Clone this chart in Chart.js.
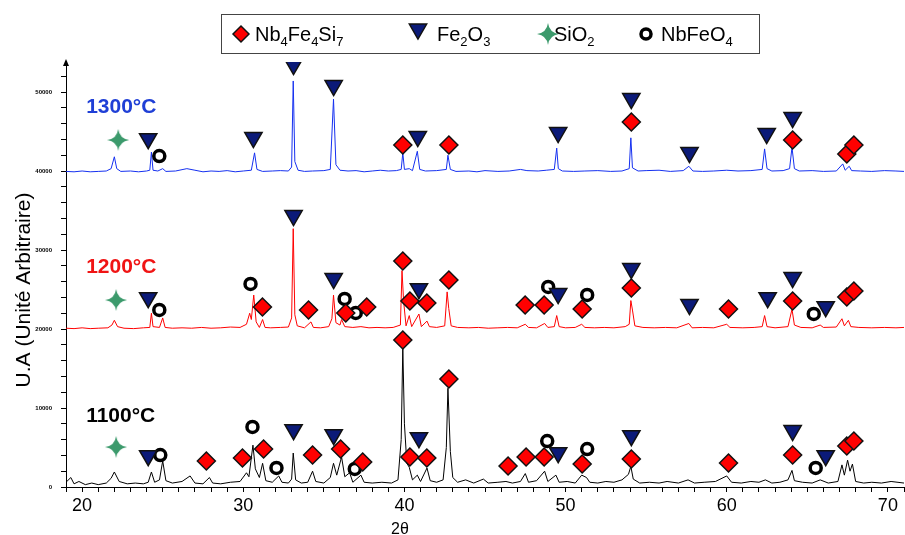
<!DOCTYPE html>
<html>
<head>
<meta charset="utf-8">
<script src="https://cdn.jsdelivr.net/npm/chart.js@4.4.1/dist/chart.umd.min.js"></script>
<style>
  html, body { margin: 0; padding: 0; background: #fff; overflow: hidden; }
  #wrap { width: 905px; height: 535px; }
</style>
</head>
<body>
<div id="wrap"><canvas id="xrd" width="905" height="535"></canvas></div>
<script>
// Diffractogrammes DRX empilés (1100, 1200, 1300 °C)
const xTickLabels = [20, 30, 40, 50, 60, 70];
const yTickLabels = [0, 10000, 20000, 30000, 40000, 50000];

// [2θ, intensité] (courbes déjà décalées comme sur la figure)
const trace1300 = [
  [19.0,39950],[19.5,39900],[20.0,40000],[20.5,39900],[21.0,39950],[21.5,40000],[21.8,40300],[22.0,41800],[22.15,40300],
  [22.4,39950],[23.0,40000],[23.5,39900],[24.0,40000],[24.2,40100],[24.3,42400],[24.4,40100],[24.7,40000],[25.0,40300],
  [25.2,39950],[25.8,40000],[26.5,40300],[27.0,40100],[27.5,39900],[28.0,40000],[28.5,39950],[29.0,40050],[29.5,39900],
  [30.0,40000],[30.5,40100],[30.7,42300],[30.85,40200],[31.2,39950],[31.8,40000],[32.3,40050],[32.8,40000],[33.0,40500],
  [33.1,51400],[33.2,41200],[33.4,40100],[33.8,39950],[34.3,40000],[35.0,40050],[35.4,40200],[35.6,49100],[35.75,40800],
  [36.0,40100],[36.5,40000],[37.0,40050],[37.5,39900],[38.0,40000],[38.5,40100],[39.0,40000],[39.5,40050],[39.8,40200],
  [39.9,42300],[40.0,40200],[40.3,40300],[40.5,40050],[40.8,42500],[40.95,40200],[41.3,40000],[42.0,40050],[42.6,40200],
  [42.7,42000],[42.85,40200],[43.2,39950],[44.0,40000],[44.5,39900],[45.0,40050],[45.8,39950],[46.5,40000],[47.2,40200],
  [47.6,40050],[48.3,40000],[48.8,40100],[49.3,40200],[49.45,42900],[49.55,40300],[49.8,40000],[50.5,39950],[51.2,40000],
  [52.0,40050],[52.8,39950],[53.5,40000],[53.95,40300],[54.05,44200],[54.15,40400],[54.5,40000],[55.0,40050],[55.8,40100],
  [56.5,39950],[57.3,40050],[57.65,40600],[57.9,40000],[58.5,39950],[59.2,40000],[60.0,40100],[60.7,40000],[61.5,40050],
  [62.2,40200],[62.35,42800],[62.5,40300],[62.8,40000],[63.5,40050],[63.9,40300],[64.05,43000],[64.2,40300],[64.5,40000],
  [65.3,40050],[66.0,39950],[66.8,40000],[67.2,40900],[67.35,40100],[67.6,40600],[67.75,40050],[68.3,40000],[69.0,39950],
  [69.8,40050],[70.5,40000],[71.0,39950]
];

const trace1200 = [
  [19.0,20100],[19.5,20050],[20.0,20150],[20.5,20050],[21.0,20100],[21.6,20150],[21.85,20500],[22.0,21100],[22.2,20300],
  [22.6,20100],[23.2,20050],[23.8,20150],[24.2,20200],[24.3,22000],[24.4,20300],[24.8,20200],[25.0,21400],[25.15,20200],
  [25.6,20100],[26.2,20150],[26.8,20100],[27.4,20200],[28.0,20100],[28.6,20150],[29.2,20250],[29.8,20200],[30.2,20600],
  [30.4,22000],[30.5,21200],[30.65,24300],[30.8,20900],[31.0,20200],[31.2,21200],[31.35,20200],[31.7,20150],[32.3,20200],
  [32.8,20250],[33.0,21400],[33.1,32700],[33.2,21800],[33.35,20400],[33.8,20150],[34.2,20900],[34.35,20200],[34.8,20150],
  [35.3,20300],[35.5,21300],[35.6,24300],[35.75,20800],[36.0,20500],[36.1,21200],[36.3,20300],[36.8,20200],[37.3,20300],
  [37.8,20150],[38.3,20200],[38.8,20150],[39.3,20200],[39.75,20500],[39.85,27400],[39.95,23500],[40.1,20400],[40.3,21700],
  [40.45,20300],[40.9,21900],[41.05,20300],[41.4,21000],[41.55,20300],[42.0,20200],[42.5,20400],[42.65,24700],[42.75,22600],
  [42.9,20400],[43.3,20200],[44.0,20150],[44.6,20200],[45.2,20100],[45.8,20150],[46.4,20200],[47.0,20150],[47.5,20600],
  [47.7,20200],[48.2,20150],[48.7,20700],[48.9,20200],[49.3,20300],[49.45,21700],[49.6,20300],[50.0,20150],[50.6,20200],
  [51.0,20600],[51.2,20200],[51.8,20150],[52.4,20200],[53.0,20150],[53.7,20300],[53.95,20600],[54.05,23600],[54.15,22400],
  [54.3,20400],[54.8,20200],[55.5,20150],[56.2,20200],[56.9,20150],[57.65,20700],[57.85,20150],[58.5,20200],[59.2,20150],
  [60.0,20600],[60.2,20200],[61.0,20150],[61.7,20200],[62.2,20300],[62.35,21700],[62.5,20300],[63.0,20150],[63.8,20300],
  [64.05,22500],[64.2,20500],[64.6,20200],[65.3,20150],[65.8,20500],[66.0,20200],[66.8,20250],[67.15,21300],[67.3,20400],
  [67.55,21100],[67.7,20300],[68.2,20200],[69.0,20150],[69.8,20200],[70.5,20150],[71.0,20200]
];

const trace1100 = [
  [19.0,600],[19.3,1200],[19.5,400],[19.8,700],[20.2,300],[20.6,500],[21.0,300],[21.5,500],[21.8,1100],[22.0,1900],
  [22.3,700],[22.8,400],[23.3,500],[23.8,400],[24.1,600],[24.3,1900],[24.5,600],[24.8,900],[25.0,3300],[25.2,800],
  [25.6,500],[26.2,700],[26.7,1400],[27.0,500],[27.5,400],[27.9,1200],[28.1,500],[28.6,400],[29.2,600],[29.8,700],
  [30.2,1800],[30.35,1300],[30.6,5300],[30.75,2300],[31.0,1200],[31.2,3000],[31.4,800],[31.8,600],[32.2,1400],[32.4,600],
  [32.8,500],[33.0,1000],[33.1,4300],[33.25,900],[33.6,500],[34.0,600],[34.3,2000],[34.5,700],[35.0,500],[35.4,1200],
  [35.6,3000],[35.8,1500],[36.1,3800],[36.3,1300],[36.6,1800],[36.8,600],[37.3,1500],[37.5,600],[38.0,500],[38.6,600],
  [39.2,500],[39.6,900],[39.8,6000],[39.9,17600],[40.0,8000],[40.15,3000],[40.3,2500],[40.5,900],[40.8,1500],[41.0,700],
  [41.4,2400],[41.6,800],[42.0,600],[42.4,900],[42.6,5000],[42.7,12500],[42.85,4500],[43.0,1200],[43.3,600],[43.8,900],
  [44.3,500],[44.9,1000],[45.2,500],[45.8,600],[46.3,700],[46.7,500],[47.2,700],[47.5,1700],[47.7,600],[48.2,800],
  [48.7,2000],[48.9,700],[49.4,1500],[49.6,600],[50.1,700],[50.6,500],[51.0,1500],[51.3,1200],[51.5,600],[52.0,500],
  [52.5,700],[53.0,600],[53.5,900],[53.9,1600],[54.05,2600],[54.2,1000],[54.6,500],[55.2,600],[55.8,500],[56.3,700],
  [57.0,500],[57.6,900],[58.0,500],[58.6,600],[59.3,700],[60.0,1400],[60.3,600],[60.9,500],[61.5,700],[62.0,600],
  [62.4,900],[62.8,500],[63.3,600],[63.8,900],[64.05,2100],[64.2,800],[64.7,600],[65.3,500],[65.8,900],[66.3,500],
  [66.9,700],[67.15,2800],[67.3,1500],[67.5,3400],[67.65,2000],[67.8,2900],[68.0,700],[68.5,500],[69.0,600],[69.6,500],
  [70.2,700],[71.0,500]
];

// repères des phases [2θ, intensité]
const markNb4Fe4Si7 = [
  [39.90,43300],[42.76,43300],[54.08,46210],[64.09,43930],[67.45,42160],[67.89,43300],
  [31.19,22790],[34.05,22410],[36.36,22030],[37.66,22790],[39.90,28610],[40.34,23550],[41.39,23290],[42.76,26210],
  [47.49,23040],[48.67,23040],[51.03,22530],[54.08,25190],[60.11,22530],[64.09,23550],[67.45,24050],[67.89,24810],
  [27.71,3290],[29.95,3670],[31.26,4810],[34.30,4050],[36.04,4810],[37.41,3170],[39.90,18610],[40.34,3800],[41.39,3670],
  [42.76,13670],[46.43,2660],[47.55,3800],[48.67,3800],[51.03,2910],[54.08,3540],[60.11,3040],[64.09,4050],[67.45,5190],[67.89,5820]
];
const markFe2O3 = [
  [24.10,44100],[30.63,44230],[33.12,53470],[35.61,50810],[40.83,44360],[49.54,44860],[54.08,49170],[57.69,42330],
  [62.48,44740],[64.09,46760],
  [24.10,23970],[33.12,34360],[35.61,26380],[40.90,25110],[49.54,24480],[54.08,27650],[57.69,23090],[62.54,23970],
  [64.09,26510],[66.14,22830],
  [24.10,3970],[33.12,7260],[35.61,6630],[40.90,6250],[49.54,4350],[54.08,6500],[64.09,7140],[66.14,3970]
];
const markSiO2 = [[22.24,43930],[22.11,23670],[22.11,5060]];
const markNbFeO4 = [
  [24.79,41900],
  [24.79,22410],[30.45,25700],[36.29,23800],[36.98,22030],[48.92,25320],[51.34,24310],[65.40,21900],
  [24.85,4050],[30.57,7600],[32.06,2410],[36.92,2280],[48.86,5820],[51.34,4810],[65.52,2410]
];

const toXY = arr => arr.map(p => ({ x: p[0], y: p[1] }));

// étoile verte à 4 branches
function makeStar(size, color) {
  const c = document.createElement('canvas');
  c.width = size; c.height = size;
  const g = c.getContext('2d');
  const r = size / 2, k = r * 0.12;
  g.translate(r, r);
  g.fillStyle = color;
  g.beginPath();
  g.moveTo(0, -r);
  g.quadraticCurveTo(k, -k, r, 0);
  g.quadraticCurveTo(k, k, 0, r);
  g.quadraticCurveTo(-k, k, -r, 0);
  g.quadraticCurveTo(-k, -k, 0, -r);
  g.fill();
  return c;
}
const starImg = makeStar(22, '#3c9a6c');

const diamondStyle = { pointStyle: 'rectRot', radius: 9, rotation: 0, backgroundColor: '#ff0000', borderColor: '#111', borderWidth: 1.5 };
const triStyle = { pointStyle: 'triangle', radius: 10, rotation: 180, backgroundColor: '#0b1a78', borderColor: '#111', borderWidth: 1.5 };
const ringStyle = { pointStyle: 'circle', radius: 5.5, rotation: 0, backgroundColor: '#fff', borderColor: '#000', borderWidth: 3.5 };

function markerSet(data, st) {
  return {
    type: 'scatter', data: toXY(data), showLine: false, order: 0,
    pointStyle: st.pointStyle, pointRadius: st.radius, pointRotation: st.rotation,
    pointBackgroundColor: st.backgroundColor, pointBorderColor: st.borderColor,
    pointBorderWidth: st.borderWidth, pointHoverRadius: st.radius
  };
}

function traceSet(data, color) {
  return {
    type: 'line', data: toXY(data), borderColor: color, borderWidth: 1,
    pointRadius: 0, tension: 0, fill: false, order: 1
  };
}

// texte avec indices (Nb4Fe4Si7 ...)
function drawChem(ctx, parts, x, y) {
  parts.forEach(p => {
    if (p[1]) {
      ctx.font = '13px Arial, "Liberation Sans", sans-serif';
      ctx.fillText(p[0], x, y + 5);
    } else {
      ctx.font = '20px Arial, "Liberation Sans", sans-serif';
      ctx.fillText(p[0], x, y);
    }
    x += ctx.measureText(p[0]).width;
  });
}

const decor = {
  id: 'decor',
  afterDraw(chart) {
    const ctx = chart.ctx;
    const xs = chart.scales.x, ys = chart.scales.y;
    const H = Chart.helpers;
    ctx.save();

    // flèche en haut de l'axe y
    const ax = chart.chartArea.left;
    ctx.fillStyle = '#000';
    ctx.beginPath();
    ctx.moveTo(ax, 59); ctx.lineTo(ax - 3, 66); ctx.lineTo(ax + 3, 66); ctx.closePath();
    ctx.fill();

    // étiquettes des températures
    ctx.font = 'bold 21px Arial, "Liberation Sans", sans-serif';
    ctx.textBaseline = 'middle';
    ctx.textAlign = 'left';
    [['1300°C', '#1f3fd6', 48100], ['1200°C', '#f01414', 27800], ['1100°C', '#000', 9000]].forEach(t => {
      ctx.fillStyle = t[1];
      ctx.fillText(t[0], xs.getPixelForValue(20.25), ys.getPixelForValue(t[2]));
    });

    // titres des axes
    ctx.fillStyle = '#000';
    ctx.font = '21px Arial, "Liberation Sans", sans-serif';
    ctx.save();
    ctx.translate(24, 290);
    ctx.rotate(-Math.PI / 2);
    ctx.textAlign = 'center';
    ctx.fillText('U.A (Unité Arbitraire)', 0, 0);
    ctx.restore();
    ctx.font = '16px Arial, "Liberation Sans", sans-serif';
    ctx.textAlign = 'center';
    ctx.fillText('2θ', 400, 530);

    // légende
    ctx.fillStyle = '#fff';
    ctx.fillRect(221.5, 14.5, 538, 39);
    ctx.strokeStyle = '#444';
    ctx.lineWidth = 1;
    ctx.strokeRect(221.5, 14.5, 538, 39);
    ctx.fillStyle = '#ff0000'; ctx.strokeStyle = '#111'; ctx.lineWidth = 1.5;
    H.drawPoint(ctx, { pointStyle: 'rectRot', radius: 8, rotation: 0, borderWidth: 1.5 }, 241, 34);
    ctx.fillStyle = '#0b1a78';
    H.drawPoint(ctx, { pointStyle: 'triangle', radius: 10, rotation: 180, borderWidth: 1.5 }, 418, 29);
    ctx.drawImage(starImg, 548 - 11, 34 - 11);
    ctx.fillStyle = '#fff'; ctx.strokeStyle = '#000'; ctx.lineWidth = 3.5;
    H.drawPoint(ctx, { pointStyle: 'circle', radius: 5, rotation: 0, borderWidth: 3.5 }, 646, 34);

    ctx.fillStyle = '#000';
    ctx.textAlign = 'left';
    ctx.textBaseline = 'alphabetic';
    drawChem(ctx, [['Nb',0],['4',1],['Fe',0],['4',1],['Si',0],['7',1]], 255, 41);
    drawChem(ctx, [['Fe',0],['2',1],['O',0],['3',1]], 437, 41);
    drawChem(ctx, [['SiO',0],['2',1]], 554, 41);
    drawChem(ctx, [['NbFeO',0],['4',1]], 661, 41);
    ctx.restore();
  }
};

const starSet = {
  type: 'scatter', data: toXY(markSiO2), showLine: false, order: 0,
  pointStyle: starImg, pointRadius: 11
};

new Chart(document.getElementById('xrd'), {
  data: {
    datasets: [
      markerSet(markNb4Fe4Si7, diamondStyle),
      markerSet(markFe2O3, triStyle),
      starSet,
      markerSet(markNbFeO4, ringStyle),
      traceSet(trace1300, '#1530f0'),
      traceSet(trace1200, '#ff0000'),
      traceSet(trace1100, '#000000')
    ]
  },
  options: {
    responsive: false,
    animation: false,
    layout: { autoPadding: false, padding: { top: 62, right: 1, left: 0, bottom: 0 } },
    plugins: { legend: { display: false }, tooltip: { enabled: false } },
    scales: {
      x: {
        type: 'linear', min: 19, max: 71,
        afterFit: s => { s.height = 48; s.paddingLeft = 0; s.paddingRight = 0; },
        afterBuildTicks: s => {
          const t = [];
          for (let v = 19; v <= 71; v++) t.push({ value: v });
          s.ticks = t;
        },
        ticks: {
          autoSkip: false, maxRotation: 0, padding: 3, color: '#000',
          font: { family: '"Liberation Sans Narrow", "Arial Narrow", Arial, sans-serif', size: 18 },
          callback: v => xTickLabels.includes(v) ? String(v) : ''
        },
        grid: { drawOnChartArea: false, drawTicks: true, tickLength: 5, color: '#000' },
        border: { color: '#000', width: 1 }
      },
      y: {
        type: 'linear', min: 0, max: 53800,
        afterFit: s => { s.width = 66; s.paddingTop = 0; s.paddingBottom = 0; },
        afterBuildTicks: s => {
          const t = [];
          for (let v = 0; v <= 52000; v += 2000) t.push({ value: v });
          s.ticks = t;
        },
        ticks: {
          autoSkip: false, padding: 9, color: '#000',
          font: { family: 'Arial, sans-serif', size: 6, weight: 'bold' },
          callback: v => yTickLabels.includes(v) ? String(v) : ''
        },
        grid: { drawOnChartArea: false, drawTicks: true, tickLength: 5, color: '#000' },
        border: { color: '#000', width: 1 }
      }
    }
  },
  plugins: [decor]
});
</script>
</body>
</html>
